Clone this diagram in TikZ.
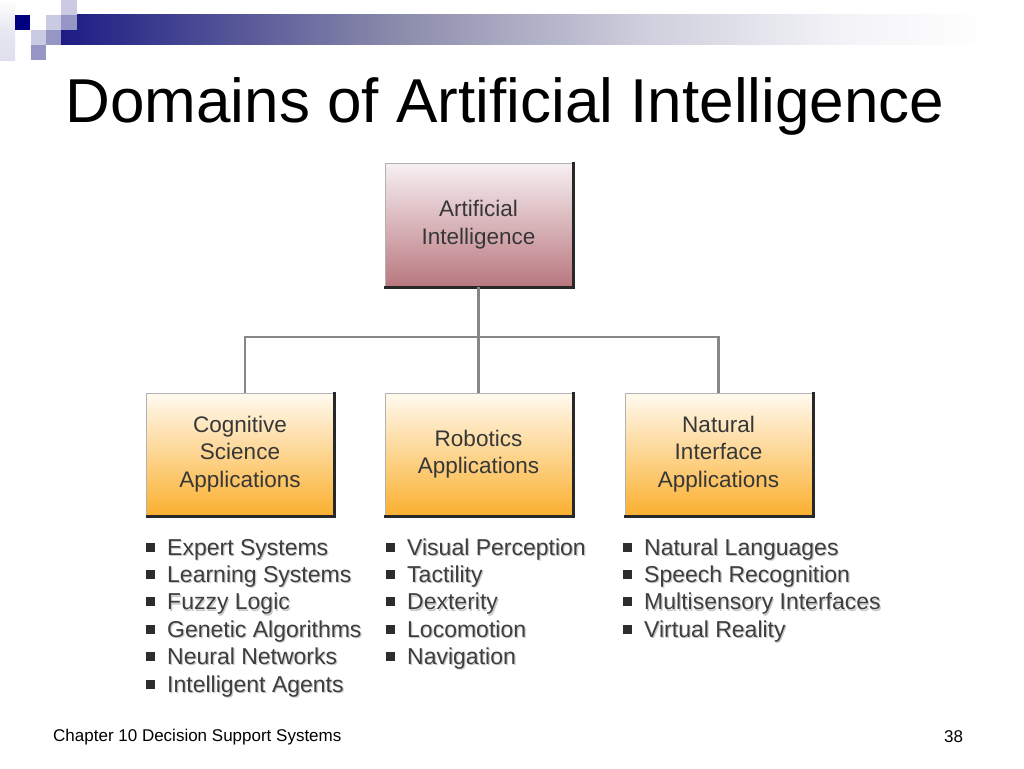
\documentclass[tikz,border=0pt]{standalone}
\usepackage{fontspec}
\setmainfont{Liberation Sans}
\definecolor{navysq}{RGB}{0,0,128}
\definecolor{barA}{RGB}{28,28,132}
\definecolor{barB}{RGB}{140,140,172}
\definecolor{barC}{RGB}{208,208,222}
\definecolor{barD}{RGB}{244,244,248}
\definecolor{sqlight}{RGB}{202,202,226}
\definecolor{sqmed}{RGB}{150,150,198}
\definecolor{aitop}{RGB}{247,240,242}
\definecolor{aibot}{RGB}{185,120,128}
\definecolor{ortop}{RGB}{255,250,240}
\definecolor{orbot}{RGB}{251,176,48}
\definecolor{boxtext}{RGB}{55,55,55}
\definecolor{itemtext}{RGB}{62,62,62}
\definecolor{itemshadow}{RGB}{200,200,200}
\definecolor{bulletc}{RGB}{45,45,45}
\definecolor{connc}{RGB}{135,135,135}
\definecolor{shadowc}{RGB}{40,40,40}
\newcommand{\bul}{\textcolor{bulletc}{\raisebox{3.5pt}{\rule{9pt}{9pt}}}\hspace{12pt}}
\newcommand{\bulsp}{\hspace{21pt}}
\begin{document}
\begin{tikzpicture}[x=1pt,y=-1pt,
  boxbase/.style={minimum width=187pt, minimum height=122pt, inner sep=0pt,
    align=center, font=\fontsize{22.5}{27.5}\selectfont, text=boxtext,
    draw=gray!60, line width=1pt},
  aibox/.style={boxbase, top color=aitop, bottom color=aibot},
  orbox/.style={boxbase, top color=ortop, bottom color=orbot},
  shadowline/.style={draw=shadowc, line width=3pt},
  conn/.style={draw=connc, line width=2.5pt},
  item/.style={anchor=base west, inner sep=0pt, text=itemtext,
    font=\fontsize{23}{26}\selectfont},
  itemsh/.style={item, text=itemshadow},
  footer/.style={anchor=west, inner sep=0pt, font=\fontsize{17}{20}\selectfont}
]
\useasboundingbox (0,0) rectangle (1024,768);
\fill[white] (0,0) rectangle (1024,768);

% header decoration
\shade[left color=barA, right color=barB] (61,15) rectangle (400.5,45);
\shade[left color=barB, right color=barC] (400,15) rectangle (650.5,45);
\shade[left color=barC, right color=barD] (650,15) rectangle (850.5,45);
\shade[left color=barD, right color=white] (850,15) rectangle (990,45);
\shade[top color=white, bottom color=sqlight!60, middle color=sqlight!45] (0,0) rectangle (15,60);
\fill[navysq] (15,15) rectangle (30,30);
\fill[sqlight] (46,15) rectangle (61,30);
\fill[sqlight] (61,0) rectangle (77,15);
\fill[sqmed] (61,15) rectangle (77,30);
\fill[sqlight] (31,30) rectangle (46,45);
\fill[sqmed] (46,30) rectangle (61,45);
\fill[sqmed] (31,45) rectangle (46,60);

% title
\node[anchor=base, inner sep=0pt, font=\fontsize{62}{70}\selectfont] (title) at (505,122) {Domains of Artificial Intelligence};

% boxes
\node[aibox, minimum height=123pt] (ai) at (478.5,224.5) {Artificial\\Intelligence};
\node[orbox] (cog) at (240,454) {Cognitive\\Science\\Applications};
\node[orbox] (rob) at (478.5,454) {Robotics\\Applications};
\node[orbox] (nat) at (718.5,454) {Natural\\Interface\\Applications};

\foreach \n in {ai,cog,rob,nat}{
  \draw[shadowline] ([xshift=0.5pt,yshift=0.5pt]\n.north east) -- ([xshift=0.5pt,yshift=-0.5pt]\n.south east) -- ([xshift=-0.5pt,yshift=-0.5pt]\n.south west);
}

% connectors
\coordinate (j) at (478,337);
\draw[conn] (ai.south) -- (rob.north);
\draw[conn] ([xshift=5pt]cog.north) |- (j) -| (nat.north);

% bullet lists (light shadow copy first, then the text)
\foreach \t [count=\i] in {Expert Systems, Learning Systems, Fuzzy Logic, Genetic Algorithms, Neural Networks, Intelligent Agents}{
  \node[itemsh] (cs\i) at (147.2,{556.2+(\i-1)*27.4}) {\bulsp\t};
  \node[item] (c\i) at (146,{555+(\i-1)*27.4}) {\bul\t};
}
\foreach \t [count=\i] in {Visual Perception, Tactility, Dexterity, Locomotion, Navigation}{
  \node[itemsh] (rs\i) at (387.2,{556.2+(\i-1)*27.4}) {\bulsp\t};
  \node[item] (r\i) at (386,{555+(\i-1)*27.4}) {\bul\t};
}
\foreach \t [count=\i] in {Natural Languages, Speech Recognition, Multisensory Interfaces, Virtual Reality}{
  \node[itemsh] (ns\i) at (624.2,{556.2+(\i-1)*27.4}) {\bulsp\t};
  \node[item] (n\i) at (623,{555+(\i-1)*27.4}) {\bul\t};
}

% footer
\node[footer] (foot) at (53,737) {Chapter 10 Decision Support Systems};
\node[footer] (page) at (944,737) {38};
\end{tikzpicture}
\end{document}
